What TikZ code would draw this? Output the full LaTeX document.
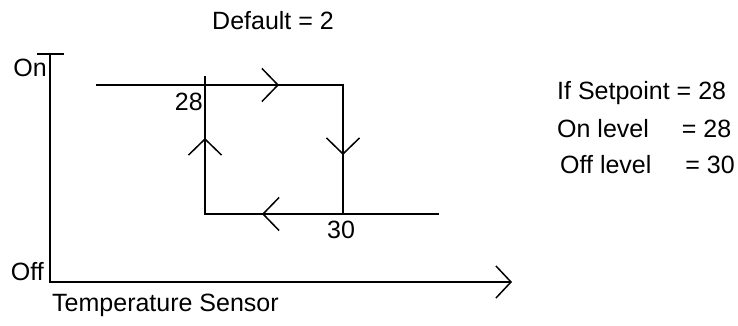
\documentclass[tikz,border=0pt]{standalone}
\usepackage{fontspec}
\setmainfont{Liberation Sans}
\usetikzlibrary{arrows.meta}
\begin{document}
\begin{tikzpicture}[x=1pt,y=-1pt,
  ln/.style={line width=1.5pt,line cap=rect},
  barb/.style={line width=1.5pt,-{Straight Barb[length=16pt,width=33pt,line width=1.5pt]}},
  lbl/.style={inner sep=0pt,font=\fontsize{25}{30}\selectfont}]
\useasboundingbox (0,0) rectangle (738,326);
% axes
\coordinate (ytop) at (50,54);
\coordinate (org) at (50,282);
\coordinate (xend) at (512,282);
\coordinate (tickL) at (38,54);
\coordinate (tickR) at (63,54);
\draw[ln] (tickL) -- (tickR);
\draw[ln] (ytop) -- (org);
\draw[line width=1.5pt,-{Straight Barb[length=15pt,width=32pt,line width=1.5pt]}] (org) -- (xend);
% loop corners
\coordinate (start) at (97,85);
\coordinate (lt) at (205,77);
\coordinate (tl) at (205,85);
\coordinate (tr) at (343,85);
\coordinate (br) at (343,214);
\coordinate (bl) at (205,214);
\coordinate (bend) at (438,214);
\coordinate (aT) at (279,85);
\coordinate (aR) at (343,155);
\coordinate (aB) at (262,214);
\coordinate (aL) at (205,138);
\draw[ln] (start) -- (tr) -- (br);
\draw[ln] (lt) -- (bl) -- (bend);
\draw[barb] (tl) -- (aT);
\draw[barb] (tr) -- (aR);
\draw[barb] (br) -- (aB);
\draw[barb] (bl) -- (aL);
% labels
\node[lbl] (def) at (273,21) {Default = 2};
\node[lbl,anchor=east] (on) at (47,68) {On};
\node[lbl,anchor=east] (off) at (44,272) {Off};
\node[lbl,anchor=west] (temp) at (52,305) {Temperature Sensor};
\node[lbl,anchor=east] (l28) at (203,102) {28};
\node[lbl] (l30) at (341,230) {30};
\node[lbl,anchor=west] (r1) at (557,93) {If Setpoint = 28};
\node[lbl,anchor=west] (r2) at (557,129) {On level\hspace{33pt}= 28};
\node[lbl,anchor=west] (r3) at (560,165) {Off level\hspace{34pt}= 30};
\end{tikzpicture}
\end{document}
